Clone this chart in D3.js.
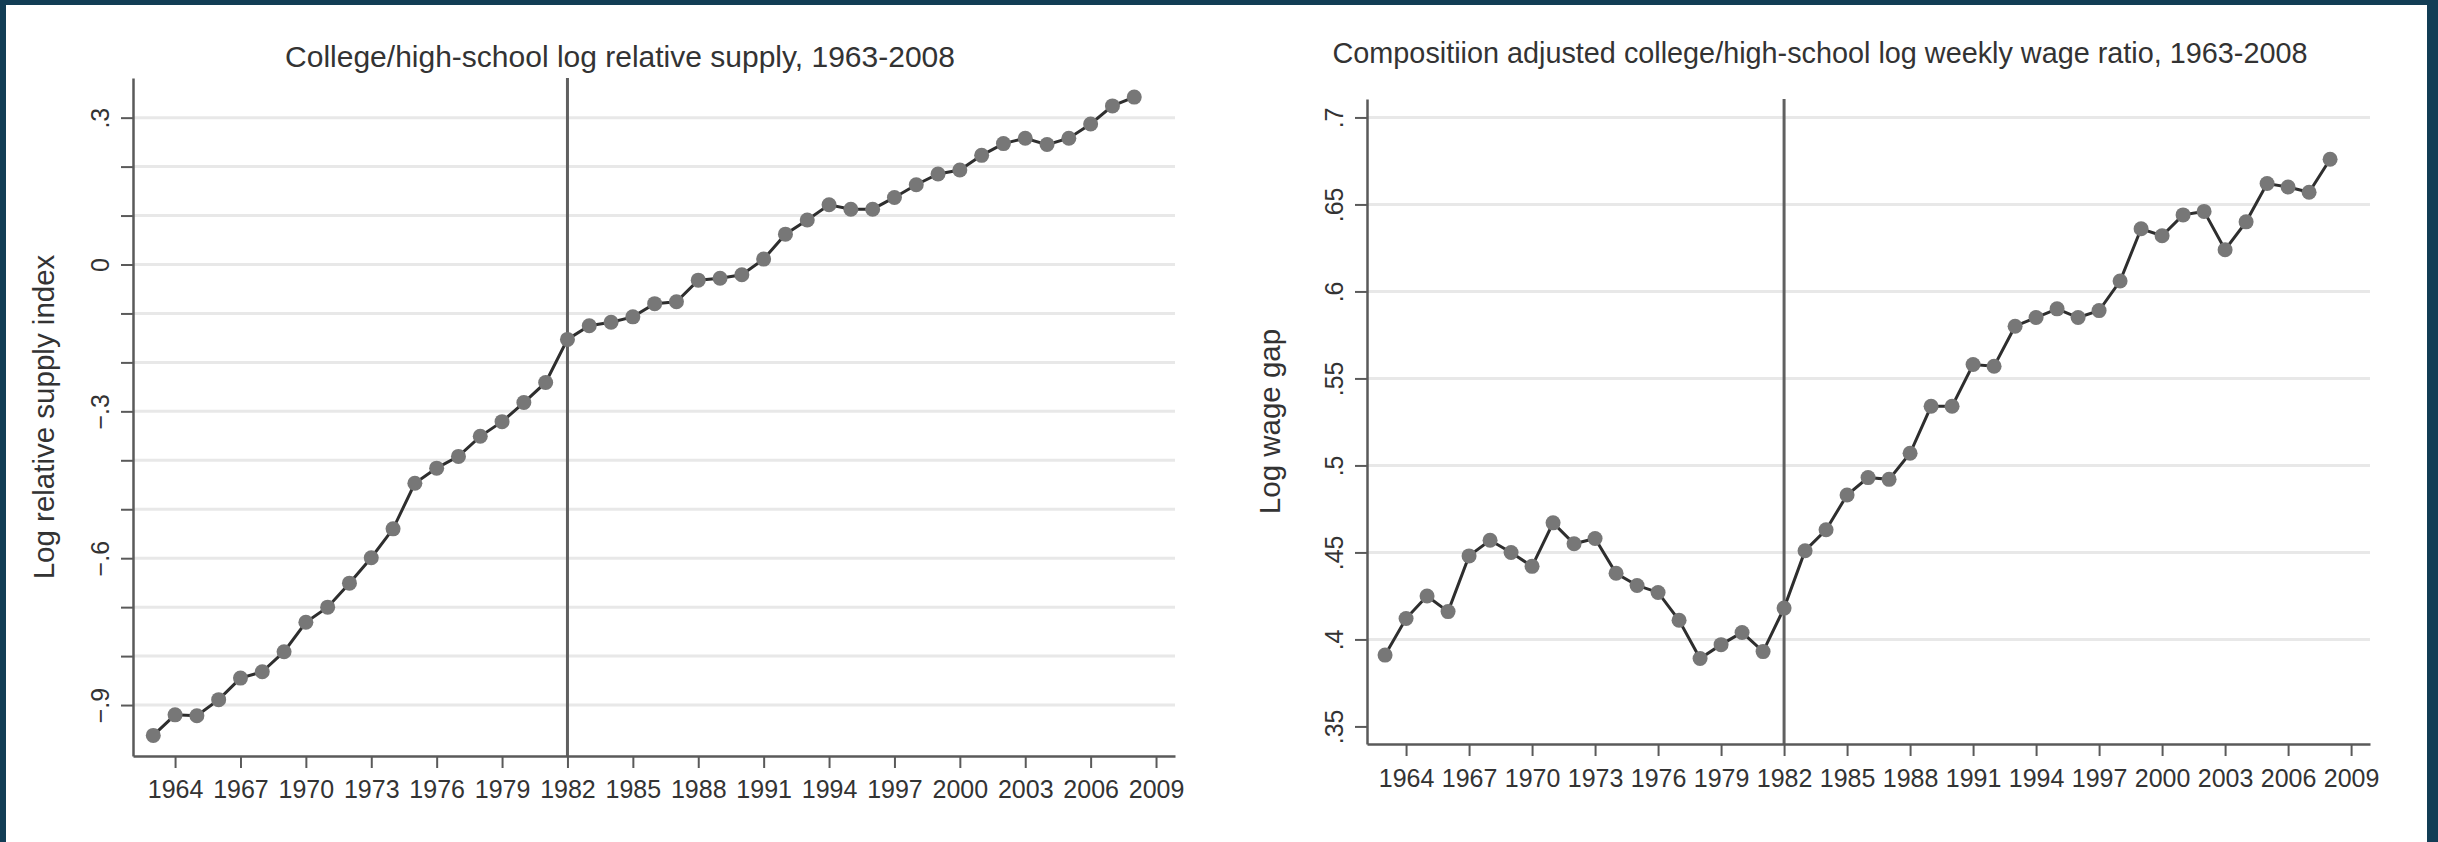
<!DOCTYPE html>
<html>
<head>
<meta charset="utf-8">
<script src="https://cdn.jsdelivr.net/npm/d3@7"></script>
<style>
  html, body { margin: 0; padding: 0; background: #123d55; }
  svg { display: block; font-family: "Liberation Sans", Arial, Helvetica, sans-serif; }
</style>
</head>
<body>
<svg id="chart" width="2438" height="842"></svg>
<script>
// Survey years
const years = [1963, 1964, 1965, 1966, 1967, 1968, 1969, 1970, 1971, 1972,
               1973, 1974, 1975, 1976, 1977, 1978, 1979, 1980, 1981, 1982,
               1983, 1984, 1985, 1986, 1987, 1988, 1989, 1990, 1991, 1992,
               1993, 1994, 1995, 1996, 1997, 1998, 1999, 2000, 2001, 2002,
               2003, 2004, 2005, 2006, 2007, 2008];

// College/high-school log relative supply index
const supplyIndex = [-0.962, -0.920, -0.922, -0.889, -0.845, -0.832, -0.791, -0.731, -0.700, -0.651,
                     -0.599, -0.540, -0.447, -0.416, -0.392, -0.351, -0.321, -0.282, -0.241, -0.153,
                     -0.125, -0.118, -0.107, -0.080, -0.076, -0.032, -0.028, -0.021, 0.011, 0.062,
                     0.091, 0.122, 0.113, 0.113, 0.137, 0.163, 0.185, 0.193, 0.223, 0.247,
                     0.258, 0.245, 0.258, 0.287, 0.324, 0.342];

// Composition adjusted college/high-school log weekly wage gap
const wageGap = [0.391, 0.412, 0.425, 0.416, 0.448, 0.457, 0.450, 0.442, 0.467, 0.455,
                 0.458, 0.438, 0.431, 0.427, 0.411, 0.389, 0.397, 0.404, 0.393, 0.418,
                 0.451, 0.463, 0.483, 0.493, 0.492, 0.507, 0.534, 0.534, 0.558, 0.557,
                 0.580, 0.585, 0.590, 0.585, 0.589, 0.606, 0.636, 0.632, 0.644, 0.646,
                 0.624, 0.640, 0.662, 0.660, 0.657, 0.676];

const breakYear = 1982;

// Axis ticks and labels
const yearTicks = [1964, 1967, 1970, 1973, 1976, 1979, 1982, 1985, 1988, 1991,
                   1994, 1997, 2000, 2003, 2006, 2009];
const supplyTicks = [-0.9, -0.8, -0.7, -0.6, -0.5, -0.4, -0.3, -0.2, -0.1, 0, 0.1, 0.2, 0.3];
const supplyLabelValues = [-0.9, -0.6, -0.3, 0, 0.3];
const supplyLabelText = ["\u2212.9", "\u2212.6", "\u2212.3", "0", ".3"];
const wageTicks = [0.35, 0.4, 0.45, 0.5, 0.55, 0.6, 0.65, 0.7];
const wageLabelText = [".35", ".4", ".45", ".5", ".55", ".6", ".65", ".7"];
const wageGridTicks = [0.4, 0.45, 0.5, 0.55, 0.6, 0.65, 0.7];

const svg = d3.select("#chart");

// Page frame
svg.append("rect").attr("x", 0).attr("y", 0).attr("width", 2438).attr("height", 842).attr("fill", "#123d55");
svg.append("rect").attr("x", 6).attr("y", 5).attr("width", 2421).attr("height", 837).attr("fill", "#ffffff");

const TEXT = "#333333";
const AXIS = "#5a5a5a";

function drawPanel(cfg) {
  const g = svg.append("g");
  const x = d3.scaleLinear().domain(cfg.xDomain).range(cfg.xRange);
  const y = d3.scaleLinear().domain(cfg.yDomain).range(cfg.yRange);
  const [x0, x1] = cfg.xRange;
  const [yb, yt] = cfg.yRange;

  // Horizontal gridlines
  g.append("g").selectAll("line").data(cfg.gridTicks).join("line")
    .attr("x1", x0).attr("x2", x1)
    .attr("y1", d => y(d)).attr("y2", d => y(d))
    .attr("stroke", "#e8e8e8").attr("stroke-width", 3);

  // Reference line at the break year
  g.append("line")
    .attr("x1", x(breakYear)).attr("x2", x(breakYear))
    .attr("y1", yt).attr("y2", yb)
    .attr("stroke", "#606060").attr("stroke-width", 3);

  // Y axis
  const yAxis = d3.axisLeft(y).tickValues(cfg.yTicks).tickSize(12).tickSizeOuter(0)
    .tickFormat(d => {
      const i = cfg.yLabelValues.findIndex(v => Math.abs(v - d) < 1e-9);
      return i >= 0 ? cfg.yLabelText[i] : "";
    });
  const ya = g.append("g").attr("transform", `translate(${x0},0)`).call(yAxis);
  ya.select(".domain").attr("stroke", AXIS).attr("stroke-width", 2.5);
  ya.selectAll(".tick line").attr("stroke", AXIS).attr("stroke-width", 2);
  ya.selectAll(".tick text")
    .attr("transform", "rotate(-90)")
    .attr("x", 0).attr("y", -24).attr("dy", 0)
    .attr("text-anchor", "middle")
    .attr("fill", TEXT).attr("font-size", 25)
    .attr("font-family", "Liberation Sans, Arial, sans-serif");

  // X axis
  const xAxis = d3.axisBottom(x).tickValues(yearTicks).tickSize(12).tickSizeOuter(0).tickFormat(d3.format("d"));
  const xa = g.append("g").attr("transform", `translate(0,${yb})`).call(xAxis);
  xa.select(".domain").attr("stroke", AXIS).attr("stroke-width", 2.5);
  xa.selectAll(".tick line").attr("stroke", AXIS).attr("stroke-width", 2);
  xa.selectAll(".tick text")
    .attr("y", cfg.xLabelOffset).attr("dy", 0)
    .attr("fill", TEXT).attr("font-size", 25)
    .attr("font-family", "Liberation Sans, Arial, sans-serif");

  // Series line and markers
  const pts = years.map((yr, i) => [yr, cfg.values[i]]);
  g.append("path").datum(pts)
    .attr("fill", "none").attr("stroke", "#2e2e2e").attr("stroke-width", 3)
    .attr("d", d3.line().x(d => x(d[0])).y(d => y(d[1])));
  g.append("g").selectAll("circle").data(pts).join("circle")
    .attr("cx", d => x(d[0])).attr("cy", d => y(d[1])).attr("r", 7.5)
    .attr("fill", "#777777");

  // Titles
  g.append("text").attr("x", cfg.titleX).attr("y", cfg.titleY)
    .attr("text-anchor", "middle").attr("font-size", cfg.titleSize).attr("fill", TEXT)
    .text(cfg.title);
  g.append("text")
    .attr("transform", `translate(${cfg.yTitleX},${(yb + yt) / 2}) rotate(-90)`)
    .attr("text-anchor", "middle").attr("font-size", 29.5).attr("fill", TEXT)
    .text(cfg.yTitle);
}

drawPanel({
  values: supplyIndex,
  xDomain: [1962.07, 2009.87], xRange: [133, 1175],
  yDomain: [-1.0041, 0.381], yRange: [756, 78],
  yTicks: supplyTicks, yLabelValues: supplyLabelValues, yLabelText: supplyLabelText,
  gridTicks: supplyTicks,
  xLabelOffset: 42,
  title: "College/high-school log relative supply, 1963-2008",
  titleX: 620, titleY: 67, titleSize: 30,
  yTitle: "Log relative supply index", yTitleX: 54
});

drawPanel({
  values: wageGap,
  xDomain: [1962.14, 2009.9], xRange: [1367, 2370],
  yDomain: [0.3399, 0.7106], yRange: [744, 99],
  yTicks: wageTicks, yLabelValues: wageTicks, yLabelText: wageLabelText,
  gridTicks: wageGridTicks,
  xLabelOffset: 43,
  title: "Compositiion adjusted college/high-school log weekly wage ratio, 1963-2008",
  titleX: 1820, titleY: 63, titleSize: 28.8,
  yTitle: "Log wage gap", yTitleX: 1280
});
</script>
</body>
</html>
